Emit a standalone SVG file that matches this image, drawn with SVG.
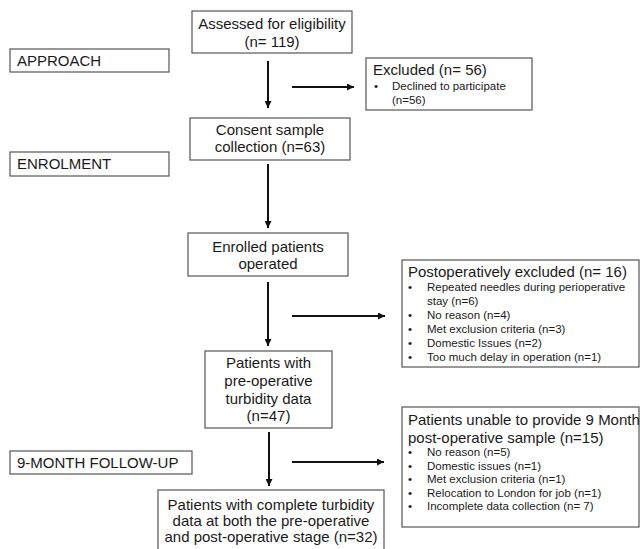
<svg xmlns="http://www.w3.org/2000/svg" width="640" height="549" viewBox="0 0 640 549">
<defs>
<style>
.box{fill:#fff;stroke:#555;stroke-width:1.2}
.t{font-family:"Liberation Sans",Arial,sans-serif;font-size:15px;fill:#1a1a1a}
.c{text-anchor:middle}
.s{font-family:"Liberation Sans",Arial,sans-serif;font-size:11.5px;fill:#1a1a1a}
.ln{stroke:#111;stroke-width:2;fill:none}
</style>
<marker id="ah" viewBox="0 0 10 10" refX="10" refY="5" markerWidth="3.5" markerHeight="3.5" orient="auto" markerUnits="strokeWidth">
<path d="M0,0 L10,5 L0,10 z" fill="#111"/>
</marker>
</defs>
<rect width="640" height="549" fill="#fff"/>

<g id="approach"><rect class="box" x="10" y="49" width="159" height="23"/><text class="t" x="17" y="66">APPROACH</text></g>
<g id="enrolment"><rect class="box" x="10" y="152" width="159" height="24"/><text class="t" x="17" y="169">ENROLMENT</text></g>
<g id="followup"><rect class="box" x="10" y="451" width="182" height="23"/><text class="t" x="17" y="468">9-MONTH FOLLOW-UP</text></g>

<g id="assessed"><rect class="box" x="192" y="11" width="160" height="42"/>
<text class="t c" x="272" y="29">Assessed for eligibility</text><text class="t c" x="272" y="47">(n= 119)</text></g>

<g id="excluded"><rect class="box" x="366" y="58" width="166" height="52"/>
<text class="t" x="373" y="75">Excluded (n= 56)</text>
<text class="s" x="374" y="90">•</text><text class="s" x="392" y="90">Declined to participate</text>
<text class="s" x="392" y="104">(n=56)</text></g>

<g id="consent"><rect class="box" x="190" y="118" width="160" height="42"/>
<text class="t c" x="270" y="135">Consent sample</text><text class="t c" x="270" y="152">collection (n=63)</text></g>

<g id="enrolled"><rect class="box" x="188" y="233" width="160" height="43"/>
<text class="t c" x="268" y="252">Enrolled patients</text><text class="t c" x="268" y="269">operated</text></g>

<g id="postop"><rect class="box" x="402" y="260" width="237" height="107"/>
<text class="t" x="408" y="277">Postoperatively excluded (n= 16)</text>
<g class="s">
<text x="408" y="291">•</text><text x="427" y="291">Repeated needles during perioperative</text>
<text x="427" y="305">stay (n=6)</text>
<text x="408" y="319">•</text><text x="427" y="319">No reason (n=4)</text>
<text x="408" y="333">•</text><text x="427" y="333">Met exclusion criteria (n=3)</text>
<text x="408" y="347">•</text><text x="427" y="347">Domestic Issues (n=2)</text>
<text x="408" y="361">•</text><text x="427" y="361">Too much delay in operation (n=1)</text>
</g></g>

<g id="preop"><rect class="box" x="205" y="351" width="127" height="77"/>
<text class="t c" x="268.5" y="368">Patients with</text>
<text class="t c" x="268.5" y="386">pre-operative</text>
<text class="t c" x="268.5" y="404">turbidity data</text>
<text class="t c" x="268.5" y="421">(n=47)</text></g>

<g id="unable"><rect class="box" x="402" y="407" width="237" height="120"/>
<text class="t" x="408" y="425">Patients unable to provide 9 Month</text>
<text class="t" x="408" y="443">post-operative sample (n=15)</text>
<g class="s">
<text x="408" y="456">•</text><text x="427" y="456">No reason (n=5)</text>
<text x="408" y="469.5">•</text><text x="427" y="469.5">Domestic issues (n=1)</text>
<text x="408" y="483">•</text><text x="427" y="483">Met exclusion criteria (n=1)</text>
<text x="408" y="496.5">•</text><text x="427" y="496.5">Relocation to London for job (n=1)</text>
<text x="408" y="510">•</text><text x="427" y="510">Incomplete data collection (n= 7)</text>
</g></g>

<g id="complete"><rect class="box" x="158" y="490" width="226" height="62"/>
<text class="t c" x="271" y="510">Patients with complete turbidity</text>
<text class="t c" x="271" y="526">data at both the pre-operative</text>
<text class="t c" x="271" y="542">and post-operative stage (n=32)</text></g>

<g id="connectors">
<line class="ln" x1="268" y1="61" x2="268" y2="108" marker-end="url(#ah)"/>
<line class="ln" x1="292" y1="87" x2="354" y2="87" marker-end="url(#ah)"/>
<line class="ln" x1="268" y1="164" x2="268" y2="228" marker-end="url(#ah)"/>
<line class="ln" x1="268" y1="282" x2="268" y2="346" marker-end="url(#ah)"/>
<line class="ln" x1="292" y1="316" x2="385" y2="316" marker-end="url(#ah)"/>
<line class="ln" x1="269" y1="432" x2="269" y2="486" marker-end="url(#ah)"/>
<line class="ln" x1="292" y1="462" x2="384" y2="462" marker-end="url(#ah)"/>
</g>
</svg>
